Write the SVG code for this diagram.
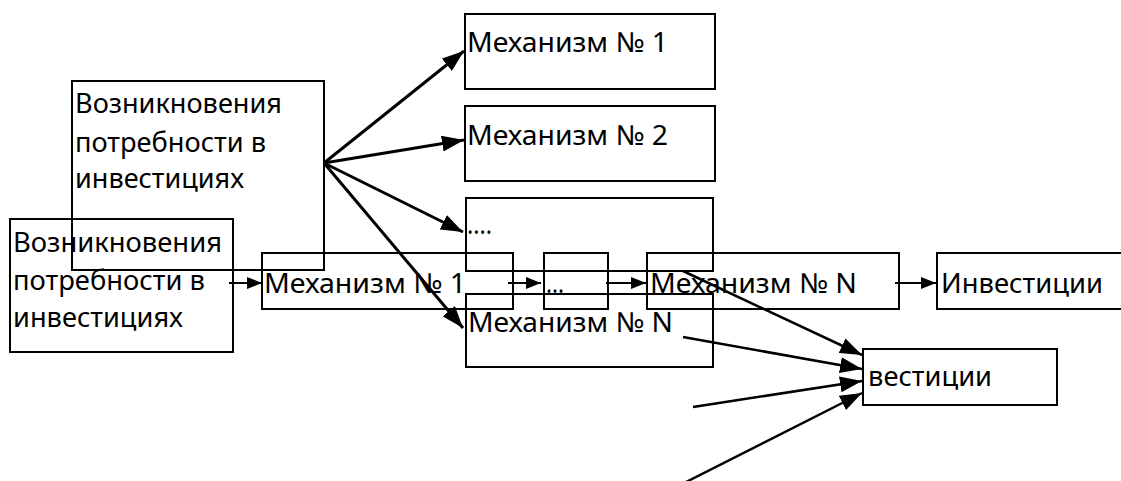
<svg xmlns="http://www.w3.org/2000/svg" width="1121" height="481" viewBox="0 0 1121 481">
<style>
.box{fill:none;stroke:#000;stroke-width:2}
.t{font-family:"Noto Sans","Open Sans",sans-serif;font-size:27.5px;fill:#000}
.fan{stroke:#000;stroke-width:3;fill:none;marker-end:url(#big)}
.in{stroke:#000;stroke-width:2.5;fill:none;marker-end:url(#big)}
.row{stroke:#000;stroke-width:1.8;fill:none;marker-end:url(#small)}
</style>
<defs>
<marker id="big" markerUnits="userSpaceOnUse" markerWidth="22" markerHeight="16" refX="22" refY="8" orient="auto"><path d="M0,0 L22,8 L0,16 z" fill="#000"/></marker>
<marker id="small" markerUnits="userSpaceOnUse" markerWidth="15" markerHeight="12" refX="15" refY="6" orient="auto"><path d="M0,0 L15,6 L0,12 z" fill="#000"/></marker>
</defs>
<rect width="1121" height="481" fill="#fff"/>
<g id="need-top">
<rect class="box" x="72" y="81" width="252" height="189"/>
<text class="t" x="75" y="113" textLength="207" lengthAdjust="spacingAndGlyphs">Возникновения</text>
<text class="t" x="75" y="152" textLength="191" lengthAdjust="spacingAndGlyphs">потребности в</text>
<text class="t" x="75" y="188" textLength="169" lengthAdjust="spacingAndGlyphs">инвестициях</text>
</g>
<g id="need-bottom">
<rect class="box" x="10" y="219" width="223" height="133"/>
<text class="t" x="13" y="252" textLength="209" lengthAdjust="spacingAndGlyphs">Возникновения</text>
<text class="t" x="13" y="290" textLength="192" lengthAdjust="spacingAndGlyphs">потребности в</text>
<text class="t" x="13" y="327" textLength="170" lengthAdjust="spacingAndGlyphs">инвестициях</text>
</g>
<g id="mech1-top">
<rect class="box" x="465" y="14" width="250" height="75"/>
<text class="t" x="467" y="52" textLength="201" lengthAdjust="spacingAndGlyphs">Механизм № 1</text>
</g>
<g id="mech2-top">
<rect class="box" x="465" y="106" width="250" height="75"/>
<text class="t" x="467" y="145" textLength="201" lengthAdjust="spacingAndGlyphs">Механизм № 2</text>
</g>
<g id="dots-top">
<rect class="box" x="466" y="198" width="247" height="73"/>
<text class="t" x="467" y="234" textLength="25" lengthAdjust="spacingAndGlyphs">....</text>
</g>
<g id="mechN-top">
<rect class="box" x="466" y="294" width="247" height="73"/>
<text class="t" x="468" y="332" textLength="205" lengthAdjust="spacingAndGlyphs">Механизм № N</text>
</g>
<g id="mech1-row">
<rect class="box" x="262" y="253" width="251" height="56"/>
<text class="t" x="264" y="293" textLength="202" lengthAdjust="spacingAndGlyphs">Механизм № 1</text>
</g>
<g id="dots-row">
<rect class="box" x="544" y="253" width="64" height="56"/>
<text class="t" x="546" y="293" textLength="18" lengthAdjust="spacingAndGlyphs">...</text>
</g>
<g id="mechN-row">
<rect class="box" x="647" y="253" width="252" height="56"/>
<text class="t" x="650" y="293" textLength="207" lengthAdjust="spacingAndGlyphs">Механизм № N</text>
</g>
<g id="invest-row">
<rect class="box" x="937" y="253" width="190" height="56"/>
<text class="t" x="941" y="293" textLength="162" lengthAdjust="spacingAndGlyphs">Инвестиции</text>
</g>
<g id="invest-partial">
<rect class="box" x="863" y="349" width="194" height="56"/>
<text class="t" x="868" y="386" textLength="124" lengthAdjust="spacingAndGlyphs">вестиции</text>
</g>
<g id="connectors">
<line class="fan" x1="324" y1="163" x2="464" y2="51"/>
<line class="fan" x1="324" y1="163" x2="464" y2="140"/>
<line class="fan" x1="324" y1="163" x2="463" y2="232"/>
<line class="fan" x1="324" y1="163" x2="463" y2="328"/>
<line class="row" x1="229" y1="283" x2="262" y2="283"/>
<line class="row" x1="508" y1="283" x2="541" y2="283"/>
<line class="row" x1="606" y1="283" x2="646" y2="283"/>
<line class="row" x1="895" y1="283" x2="936" y2="283"/>
<line class="in" x1="683" y1="271" x2="862" y2="355"/>
<line class="in" x1="683" y1="337" x2="862" y2="369"/>
<line class="in" x1="693" y1="407" x2="862" y2="381"/>
<line class="in" x1="686" y1="482" x2="862" y2="393"/>
</g>
</svg>
